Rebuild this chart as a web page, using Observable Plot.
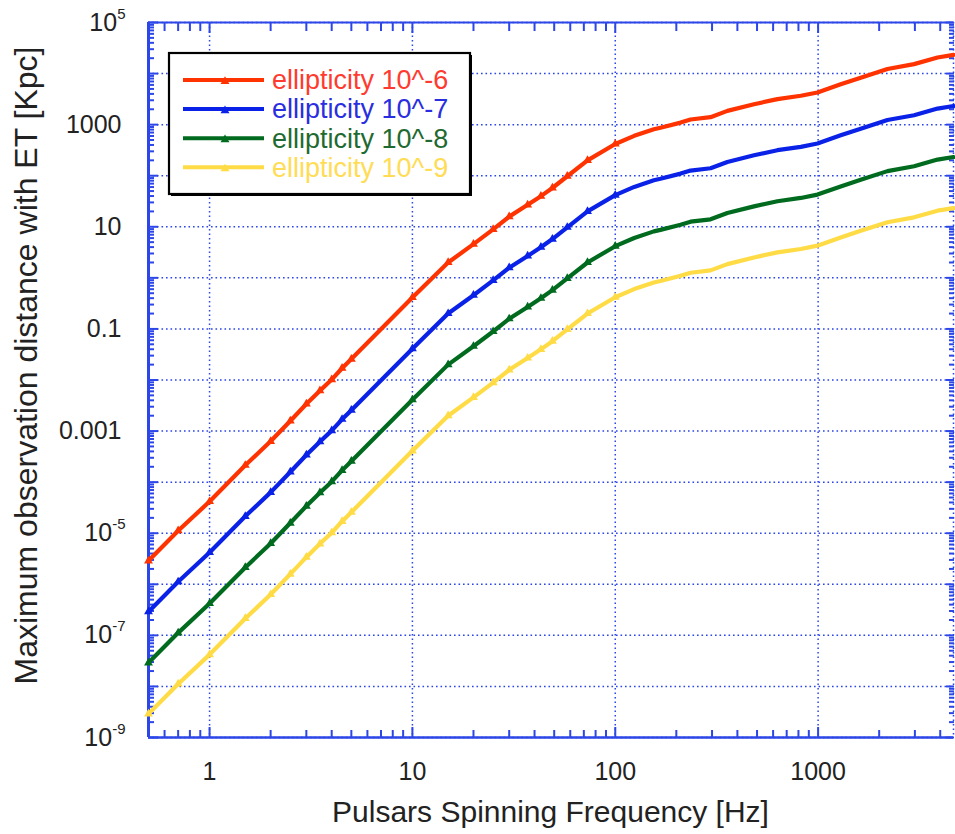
<!DOCTYPE html>
<html>
<head>
<meta charset="utf-8">
<script src="https://cdn.jsdelivr.net/npm/d3@7"></script>
<script src="https://cdn.jsdelivr.net/npm/@observablehq/plot@0.6"></script>
<style>
  body { margin: 0; background: #fff; }
  #chart { width: 955px; height: 834px; }
</style>
</head>
<body>
<div id="chart"></div>
<script>
// Pulsar spinning frequency (Hz)
const frequency = [0.5, 0.7, 1, 1.5, 2, 2.5, 3, 3.5, 4, 4.5, 5, 10, 15, 20, 25, 30, 37, 43, 49, 58, 73,
  100, 124, 155, 167, 210, 235, 295, 357, 483, 630, 822, 993, 1292, 1622, 2197, 2972, 3880, 4650];

// Maximum observation distance with ET (Kpc), one list per ellipticity
const distEps6 = [2.88e-6, 1.12e-5, 4.17e-5, 2.14e-4, 6.3e-4, 1.58e-3, 3.39e-3, 6.17e-3, 1.02e-2, 1.7e-2, 2.57e-2,
  0.412, 2.0, 4.57, 8.9, 15.8, 26.9, 39.8, 57.5, 97.7, 200,
  417, 603, 813, 871, 1096, 1260, 1400, 1862, 2512, 3162, 3673, 4266, 6166, 8318, 12300, 15310, 20650, 23170];
const distEps7 = [2.9e-7, 1.12e-6, 4.2e-6, 2.14e-5, 6.3e-5, 1.58e-4, 3.4e-4, 6.2e-4, 1.02e-3, 1.7e-3, 2.57e-3,
  0.041, 0.2, 0.457, 0.89, 1.58, 2.69, 3.98, 5.75, 9.77, 20.0,
  41.7, 60.3, 81.3, 87.1, 110, 126, 140, 186, 251, 316, 367, 427, 617, 832, 1230, 1531, 2065, 2317];
const distEps8 = [2.9e-8, 1.12e-7, 4.2e-7, 2.14e-6, 6.3e-6, 1.58e-5, 3.4e-5, 6.2e-5, 1.02e-4, 1.7e-4, 2.57e-4,
  4.1e-3, 0.02, 0.0457, 0.089, 0.158, 0.269, 0.398, 0.575, 0.977, 2.0,
  4.17, 6.03, 8.13, 8.71, 11.0, 12.6, 14.0, 18.6, 25.1, 31.6, 36.7, 42.7, 61.7, 83.2, 123, 153, 207, 232];
const distEps9 = [2.9e-9, 1.12e-8, 4.2e-8, 2.14e-7, 6.3e-7, 1.58e-6, 3.4e-6, 6.2e-6, 1.02e-5, 1.7e-5, 2.57e-5,
  4.1e-4, 2.0e-3, 4.57e-3, 8.9e-3, 0.0158, 0.0269, 0.0398, 0.0575, 0.0977, 0.2,
  0.417, 0.603, 0.813, 0.871, 1.10, 1.26, 1.40, 1.86, 2.51, 3.16, 3.67, 4.27, 6.17, 8.32, 12.3, 15.3, 20.7, 23.2];

const seriesNames = ["ellipticity 10^-6", "ellipticity 10^-7", "ellipticity 10^-8", "ellipticity 10^-9"];
const seriesColors = ["#ff3300", "#0a22e8", "#006b1f", "#ffdc45"];
const legendTextColors = ["#ff3b30", "#2a2ee0", "#1f6a30", "#ffdc55"];

// Axis ticks and labels
const xLabelValues = [1, 10, 100, 1000];
const xLabelText = ["1", "10", "100", "1000"];
const yLabelValues = [1e5, 1e3, 10, 0.1, 0.001, 1e-5, 1e-7, 1e-9];
const yLabelText = ["10^5", "1000", "10", "0.1", "0.001", "10^-5", "10^-7", "10^-9"];
const xMajor = [1, 10, 100, 1000];
const xMinor = [0.6, 0.7, 0.8, 0.9, 2, 3, 4, 5, 6, 7, 8, 9, 20, 30, 40, 50, 60, 70, 80, 90,
  200, 300, 400, 500, 600, 700, 800, 900, 2000, 3000, 4000];
const yMajor = [1e-9, 1e-8, 1e-7, 1e-6, 1e-5, 1e-4, 1e-3, 1e-2, 0.1, 1, 10, 100, 1e3, 1e4, 1e5];
const yMinor = yMajor.slice(0, -1).flatMap(p => [2, 3, 4, 5, 6, 7, 8, 9].map(m => m * p));

const seriesValues = [distEps6, distEps7, distEps8, distEps9];
const rows = seriesNames.flatMap((name, s) =>
  frequency.map((f, i) => ({f, d: seriesValues[s][i], series: name})));

const axisBlue = "#2c46e8";
const gridStyle = {stroke: axisBlue, strokeOpacity: 1, strokeWidth: 1.5, strokeDasharray: "1.6,2.9"};
const tickStyle = {stroke: axisBlue, strokeWidth: 2, label: null, tickFormat: () => ""};

const chart = Plot.plot({
  width: 955,
  height: 834,
  marginLeft: 148,
  marginRight: 2,
  marginTop: 22,
  marginBottom: 97,
  style: {fontFamily: "'Liberation Sans', Arial, Helvetica, sans-serif", background: "#fff", color: "#222"},
  x: {type: "log", domain: [0.5, 4650]},
  y: {type: "log", domain: [1e-9, 1e5]},
  color: {domain: seriesNames, range: seriesColors},
  marks: [
    Plot.gridY(yMajor, gridStyle),
    Plot.gridX(xMajor, gridStyle),
    Plot.gridX([4650], gridStyle),
    Plot.ruleX([0.5], {stroke: axisBlue, strokeWidth: 3}),
    Plot.ruleY([1e-9], {stroke: axisBlue, strokeWidth: 2.5}),
    Plot.ruleY([1e5], {stroke: axisBlue, strokeWidth: 2.2}),
    // inward ticks on all four sides
    Plot.axisX(xMajor, {anchor: "bottom", tickSize: -10, ...tickStyle}),
    Plot.axisX(xMinor, {anchor: "bottom", tickSize: -7, ...tickStyle}),
    Plot.axisX(xMajor, {anchor: "top", tickSize: -10, ...tickStyle}),
    Plot.axisX(xMinor, {anchor: "top", tickSize: -8, ...tickStyle}),
    Plot.axisY(yMajor, {anchor: "left", tickSize: -10, ...tickStyle}),
    Plot.axisY(yMinor, {anchor: "left", tickSize: -6, ...tickStyle}),
    Plot.axisY(yMajor, {anchor: "right", tickSize: -8, ...tickStyle}),
    Plot.axisY(yMinor, {anchor: "right", tickSize: -5, ...tickStyle}),
    // tick labels
    Plot.axisX(xLabelValues, {anchor: "bottom", tickSize: 0, tickPadding: 25, fontSize: 25, fill: "#222",
      label: null, tickFormat: d => xLabelText[xLabelValues.indexOf(d)]}),
    Plot.axisY(yLabelValues, {anchor: "left", tickSize: 0, tickPadding: 27, fontSize: 25, fill: "#222",
      label: null, tickFormat: d => yLabelText[yLabelValues.indexOf(d)]}),
    // curves and their markers
    Plot.line(rows, {x: "f", y: "d", z: "series", stroke: "series", strokeWidth: 4.2, strokeLinejoin: "round"}),
    Plot.dot(rows.filter(r => r.f <= 100), {x: "f", y: "d", fill: "series", symbol: "triangle", r: 3.3})
  ]
});

document.getElementById("chart").appendChild(chart);
const svg = d3.select(chart);

// exponents of the y tick labels as superscripts
svg.selectAll('g[aria-label="y-axis tick label"] text').each(function () {
  const t = this.textContent;
  const k = t.indexOf("^");
  if (k < 0) return;
  const el = d3.select(this);
  el.text(t.slice(0, k));
  el.append("tspan").attr("dy", -12).attr("font-size", 15).text(t.slice(k + 1));
  const tr = el.attr("transform");
  el.attr("transform", (tr ? tr + " " : "") + "translate(4,0)");
});

// axis titles
const xr = chart.scale("x").range;
const yr = chart.scale("y").range;
svg.append("text")
  .attr("x", (xr[0] + xr[1]) / 2).attr("y", 822)
  .attr("text-anchor", "middle").attr("font-size", 30).attr("fill", "#222")
  .text("Pulsars Spinning Frequency [Hz]");
svg.append("text")
  .attr("transform", `translate(37,${(yr[0] + yr[1]) / 2 - 14}) rotate(-90)`)
  .attr("text-anchor", "middle").attr("font-size", 32).attr("fill", "#222")
  .text("Maximum observation distance with ET [Kpc]");

// legend box
const lg = svg.append("g");
lg.append("rect").attr("x", 171).attr("y", 55).attr("width", 301).attr("height", 141).attr("fill", "#000");
lg.append("rect").attr("x", 169).attr("y", 53).attr("width", 301).attr("height", 141)
  .attr("fill", "#fff").attr("stroke", "#000").attr("stroke-width", 2.2);
const triangle = d3.symbol(d3.symbolTriangle, Math.PI * 3.3 * 3.3)();
seriesNames.forEach((name, i) => {
  const y = 80 + i * 29.1;
  lg.append("line").attr("x1", 183).attr("x2", 264).attr("y1", y).attr("y2", y)
    .attr("stroke", seriesColors[i]).attr("stroke-width", 4);
  lg.append("path").attr("d", triangle).attr("transform", `translate(225,${y + 1.5})`).attr("fill", seriesColors[i]);
  lg.append("text").attr("x", 272).attr("y", y + 9.3).attr("font-size", 27)
    .attr("text-anchor", "start").attr("fill", legendTextColors[i]).text(name);
});
</script>
</body>
</html>
